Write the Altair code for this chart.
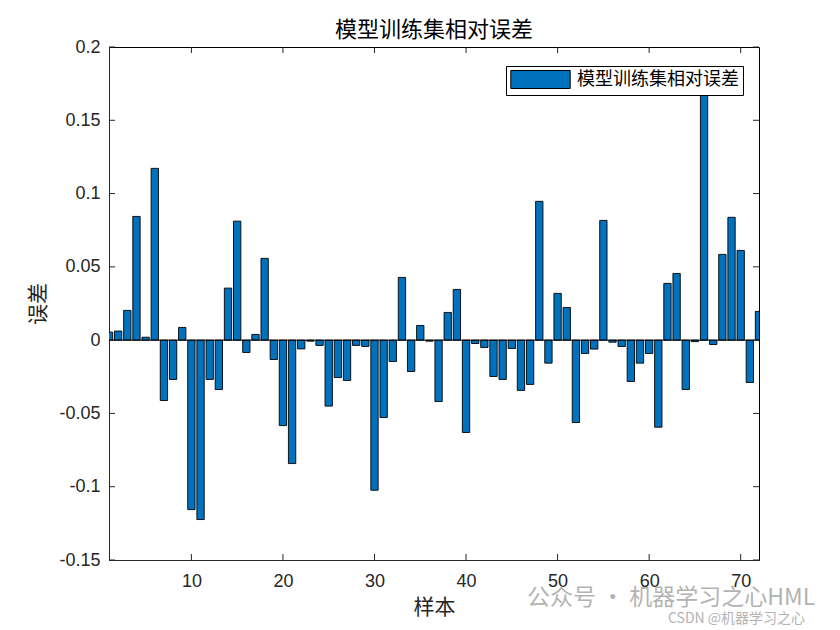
import altair as alt
import pandas as pd

# ---- data ----
samples = list(range(1, 73))
errors = [
    0.0055, 0.0062, 0.0203, 0.0844, 0.0020, 0.1172, -0.0412, -0.0268, 0.0087, -0.1156,
    -0.1224, -0.0268, -0.0337, 0.0355, 0.0812, -0.0084, 0.0039, 0.0558, -0.0132, -0.0583,
    -0.0842, -0.0060, -0.0007, -0.0036, -0.0450, -0.0255, -0.0275, -0.0036, -0.0043, -0.1024,
    -0.0528, -0.0146, 0.0428, -0.0214, 0.0100, -0.0007, -0.0419, 0.0189, 0.0346, -0.0630,
    -0.0023, -0.0050, -0.0248, -0.0268, -0.0057, -0.0343, -0.0302, 0.0947, -0.0157, 0.0319,
    0.0223, -0.0562, -0.0091, -0.0061, 0.0817, -0.0014, -0.0043, -0.0282, -0.0157, -0.0091,
    -0.0594, 0.0387, 0.0455, -0.0337, -0.0010, 0.1720, -0.0030, 0.0585, 0.0838, 0.0612,
    -0.0289, 0.0196,
]
series_name = "模型训练集相对误差"
title_text = "模型训练集相对误差"
x_title = "样本"
y_title = "误差"
x_ticks = [10, 20, 30, 40, 50, 60, 70]
y_ticks = [-0.15, -0.1, -0.05, 0, 0.05, 0.1, 0.15, 0.2]
x_domain = [1, 72]
y_domain = [-0.15, 0.2]
watermark_main = "公众号 · 机器学习之心HML"
watermark_small = "CSDN @机器学习之心"

W, H = 650, 513
TICK = 6
BAR_HALF = 0.4
CJK = "Noto Sans CJK SC"
LAT = "Liberation Sans"
AX = "#262626"

df = pd.DataFrame({"sample": samples, "err": errors, "series": series_name})
xt = pd.DataFrame({"t": x_ticks})
yt = pd.DataFrame({"t": y_ticks})

xscale = alt.Scale(domain=x_domain, nice=False, zero=False)
yscale = alt.Scale(domain=y_domain, nice=False, zero=False)

y_label_expr = ("datum.value == 0 ? '0' : (datum.value < 0 ? '-' : '') + "
                "format(abs(datum.value), '~g')")

x_axis = alt.Axis(values=x_ticks, ticks=False, grid=False, title=x_title,
                  labelFont=LAT, labelFontSize=18, labelColor=AX,
                  labelPadding=12, domainColor=AX,
                  titleFont=CJK, titleFontSize=21, titleFontWeight="normal",
                  titleColor=AX, titlePadding=6)
y_axis = alt.Axis(values=y_ticks, ticks=False, grid=False, title=y_title,
                  labelExpr=y_label_expr, labelFont=LAT, labelFontSize=18,
                  labelColor=AX, labelPadding=9, domainColor=AX,
                  titleFont=CJK, titleFontSize=21, titleFontWeight="normal",
                  titleColor=AX, titlePadding=10)

bars = alt.Chart(df).transform_calculate(
    x0=f"datum.sample - {BAR_HALF}", x1=f"datum.sample + {BAR_HALF}"
).mark_bar(clip=True, stroke="black", strokeWidth=0.9).encode(
    x=alt.X("x0:Q", scale=xscale, axis=x_axis),
    x2="x1:Q",
    y=alt.Y("err:Q", scale=yscale, axis=y_axis),
    y2=alt.datum(0),
    color=alt.Color("series:N",
                    scale=alt.Scale(domain=[series_name], range=["#0072BD"]),
                    legend=alt.Legend(
                        title=None, orient="none", legendX=397, legendY=19,
                        fillColor="white", strokeColor="black", padding=4,
                        labelFont=CJK, labelFontSize=18, labelColor="black",
                        labelLimit=400,
                        symbolType="M-3.3,-1H3.3V1H-3.3Z", symbolSize=324,
                        symbolOffset=21, labelOffset=27,
                        symbolStrokeColor="black", symbolStrokeWidth=1,
                        zindex=2)),
)

baseline = alt.Chart(df).transform_filter("datum.sample == 1").mark_rule(
    color="black", strokeWidth=1).encode(y=alt.datum(0))

xt_bottom = alt.Chart(xt).mark_rule(color=AX).encode(
    x=alt.X("t:Q", scale=xscale, axis=x_axis),
    y=alt.value(H), y2=alt.value(H - TICK))
xt_top = alt.Chart(xt).mark_rule(color=AX).encode(
    x=alt.X("t:Q", scale=xscale, axis=x_axis),
    y=alt.value(0), y2=alt.value(TICK))
yt_left = alt.Chart(yt).mark_rule(color=AX).encode(
    y=alt.Y("t:Q", scale=yscale, axis=y_axis),
    x=alt.value(0), x2=alt.value(TICK))
yt_right = alt.Chart(yt).mark_rule(color=AX).encode(
    y=alt.Y("t:Q", scale=yscale, axis=y_axis),
    x=alt.value(W), x2=alt.value(W - TICK))

wm1 = alt.Chart(pd.DataFrame({"s": [watermark_main]})).mark_text(
    font=CJK, fontSize=23, color="#9a9a9a", opacity=0.75, align="left",
    baseline="alphabetic").encode(
    text="s:N", x=alt.value(418), y=alt.value(558))
wm2 = alt.Chart(pd.DataFrame({"s": [watermark_small]})).mark_text(
    font=CJK, fontSize=14, color="#9a9a9a", opacity=0.75, align="left",
    baseline="alphabetic").encode(
    text="s:N", x=alt.value(559), y=alt.value(576))

chart = alt.layer(
    bars, baseline, xt_bottom, xt_top, yt_left, yt_right, wm1, wm2
).properties(
    width=W, height=H,
    title=alt.TitleParams(title_text, font=CJK, fontSize=22, fontWeight="normal",
                          color="black", anchor="middle", offset=7, dy=11),
    autosize=alt.AutoSizeParams(type="none"),
    padding={"left": 109, "top": 47, "right": 81, "bottom": 70},
).configure(
    background="white"
).configure_view(
    stroke="black", strokeWidth=1
)

chart.save("out.html", embed_options={"renderer": "svg", "actions": False})
